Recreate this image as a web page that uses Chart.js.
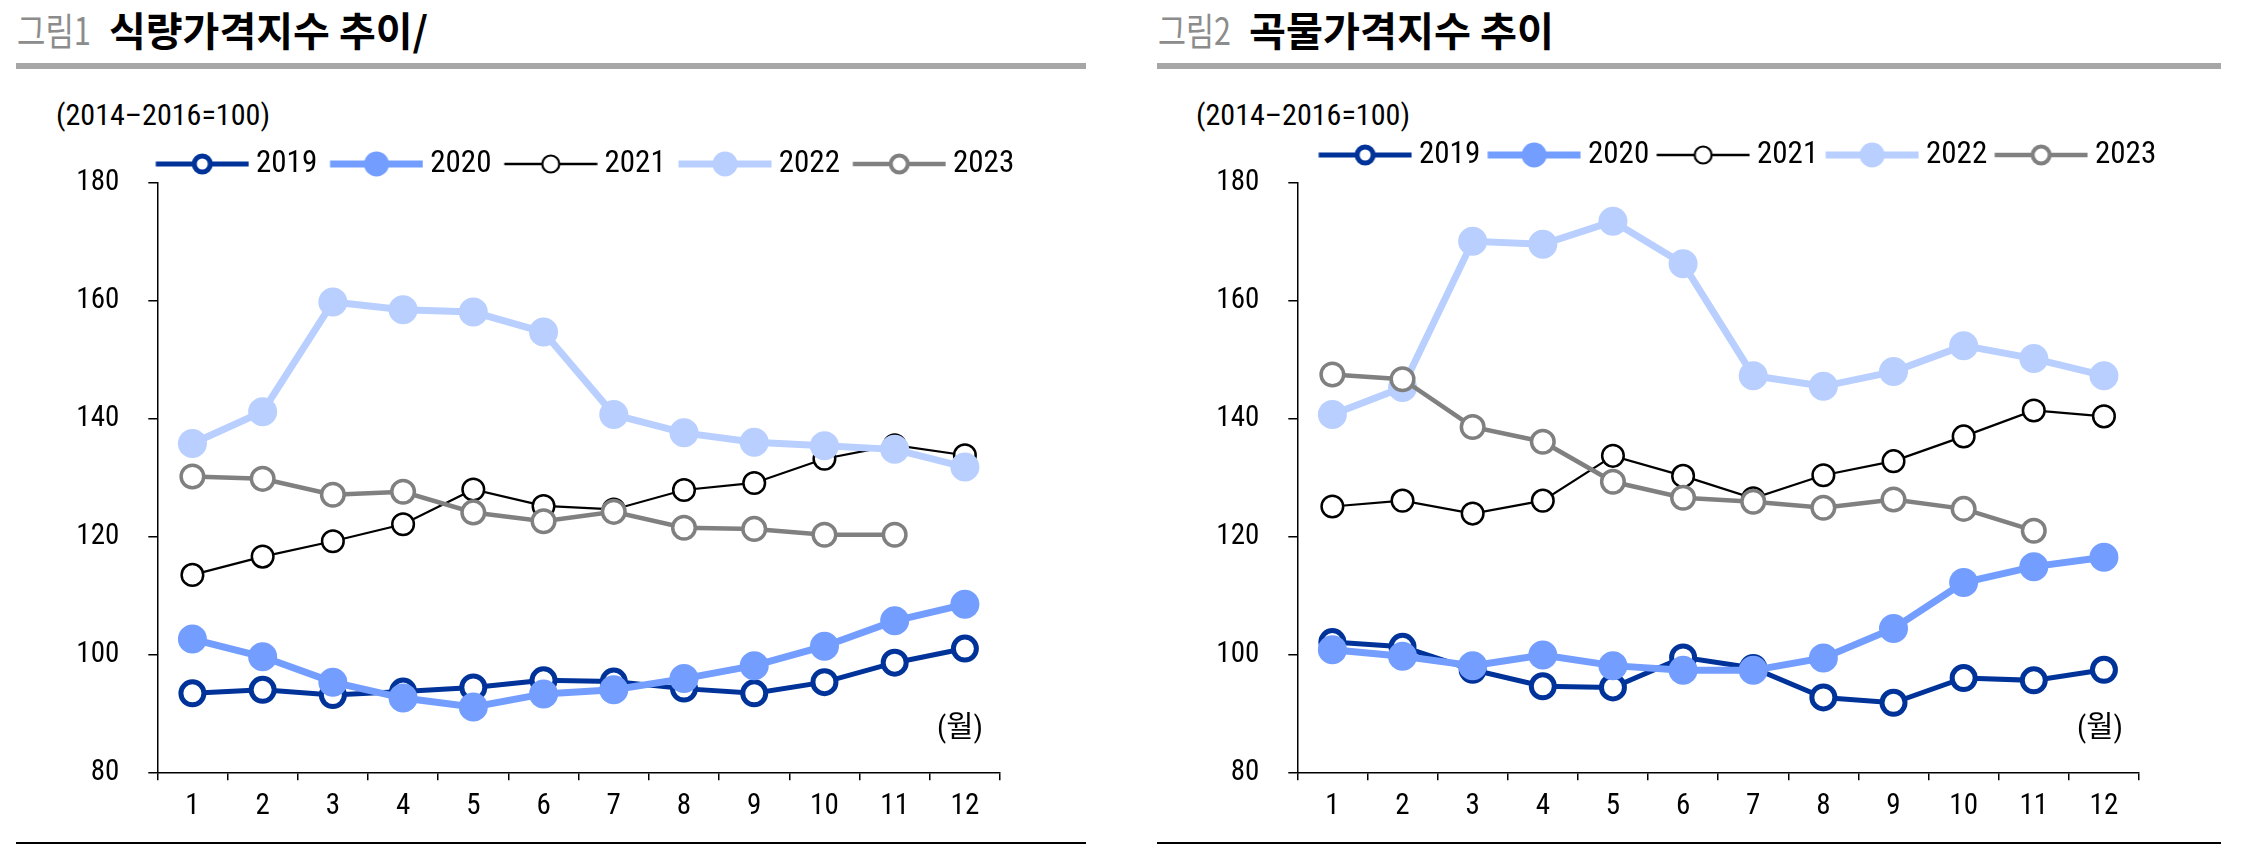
<!DOCTYPE html>
<html><head><meta charset="utf-8">
<script src="https://cdn.jsdelivr.net/npm/chart.js@4/dist/chart.umd.min.js"></script>
<style>
html,body{margin:0;padding:0;background:#fff;width:2245px;height:852px;overflow:hidden;position:relative;}
.abs{position:absolute;white-space:nowrap;transform-origin:0 0;}
.fig{font-family:'Noto Sans CJK KR',sans-serif;color:#8c8c8c;font-size:38px;line-height:40px;}
.ttl{font-family:'Noto Sans CJK KR',sans-serif;font-weight:bold;color:#000;font-size:40px;line-height:40px;}
.rule{position:absolute;background:#a6a6a6;height:6px;}
.brule{position:absolute;background:#000;height:2px;}
.sub,.unit{font-size:29px;line-height:30px;color:#000;}
.box{position:absolute;}
</style></head>
<body>
<div class="abs fig" id="fig1" style="left:17px;top:9px;">그림1</div>
<div class="abs ttl" id="ttl1" style="left:109px;top:9px;">식량가격지수 추이/</div>
<div class="abs fig" id="fig2" style="left:1158px;top:9px;">그림2</div>
<div class="abs ttl" id="ttl2" style="left:1249px;top:9px;">곡물가격지수 추이</div>
<div class="rule" style="left:16px;top:63px;width:1070px;"></div>
<div class="rule" style="left:1157px;top:63px;width:1064px;"></div>
<div class="abs sub" id="sub1" style="left:56px;top:100px;"></div>
<div class="abs sub" id="sub2" style="left:1196px;top:100px;"></div>
<div class="box" style="left:0px;top:100px;"><canvas id="c1" width="1100" height="740"></canvas></div>
<div class="box" style="left:1140px;top:100px;"><canvas id="c2" width="1105" height="740"></canvas></div>
<div class="abs unit" id="unit1" style="left:937px;top:712px;"></div>
<div class="abs unit" id="unit2" style="left:2077px;top:712px;"></div>
<div class="brule" style="left:16px;top:842px;width:1070px;"></div>
<div class="brule" style="left:1157px;top:842px;width:1064px;"></div>
<script>
// ---------- data ----------
const months = ['1','2','3','4','5','6','7','8','9','10','11','12'];
const seriesNames = ['2019','2020','2021','2022','2023'];
const yTickValues = [80, 100, 120, 140, 160, 180];
const unitText = '(2014–2016=100)';
const monthUnitText = '(월)';

const food2019 = [93.4, 94.0, 93.1, 93.7, 94.4, 95.6, 95.4, 94.2, 93.4, 95.3, 98.6, 101.0];
const food2020 = [102.6, 99.6, 95.3, 92.6, 91.1, 93.3, 94.0, 95.9, 98.1, 101.4, 105.7, 108.5];
const food2021 = [113.5, 116.6, 119.2, 122.1, 128.0, 125.2, 124.6, 127.9, 129.1, 133.2, 135.5, 133.8];
const food2022 = [135.8, 141.2, 159.8, 158.5, 158.1, 154.7, 140.7, 137.6, 136.0, 135.4, 134.8, 131.8];
const food2023 = [130.2, 129.8, 127.1, 127.6, 124.1, 122.6, 124.2, 121.5, 121.3, 120.3, 120.3];

const grain2019 = [102.1, 101.3, 97.4, 94.6, 94.4, 99.5, 97.7, 92.7, 91.8, 96.0, 95.6, 97.4];
const grain2020 = [100.8, 99.7, 98.1, 99.9, 98.1, 97.3, 97.3, 99.4, 104.4, 112.2, 114.9, 116.5];
const grain2021 = [125.1, 126.1, 123.9, 126.1, 133.7, 130.3, 126.5, 130.4, 132.8, 137.0, 141.4, 140.4];
const grain2022 = [140.7, 145.3, 170.1, 169.6, 173.5, 166.3, 147.3, 145.5, 148.0, 152.4, 150.2, 147.3];
const grain2023 = [147.5, 146.7, 138.6, 136.1, 129.3, 126.6, 125.9, 124.9, 126.3, 124.7, 121.0];

// ---------- styles ----------
const styles = [
  {color:'#003399', lw:5,   r:11.5, bw:5,   fill:'#ffffff', lgR:8,    lgBw:5,   lgLw:5},
  {color:'#739eff', lw:7,   r:14.5, bw:0,   fill:'#739eff', lgR:12.5, lgBw:0,   lgLw:7},
  {color:'#000000', lw:2.2, r:10.8, bw:2.5, fill:'#ffffff', lgR:8.5,  lgBw:2.2, lgLw:2.5},
  {color:'#b8cfff', lw:7,   r:14.5, bw:0,   fill:'#b8cfff', lgR:12.5, lgBw:0,   lgLw:7},
  {color:'#808080', lw:4.5, r:11.3, bw:3.5, fill:'#ffffff', lgR:8.5,  lgBw:4,   lgLw:4.5}
];

// ---------- fonts ----------
function fontAvailable(name){
  const c = document.createElement('canvas').getContext('2d');
  const t = '2019 abcABC';
  let diff = false;
  for (const fb of ['monospace','serif']) {
    c.font = '40px ' + fb; const a = c.measureText(t).width;
    c.font = '40px "' + name + '", ' + fb; const b = c.measureText(t).width;
    if (Math.abs(a-b) > 0.01) diff = true;
  }
  return diff;
}
const cands = ['Liberation Sans Narrow','Arial Narrow','Roboto Condensed','DejaVu Sans Condensed','Liberation Sans'];
const NARROW = cands.find(n => fontAvailable(n)) || 'Liberation Sans';
const FAM = '"' + NARROW + '", "Liberation Sans", "Noto Sans CJK KR", sans-serif';

function measure(txt, size){
  const c = document.createElement('canvas').getContext('2d');
  c.font = size + 'px ' + FAM; return c.measureText(txt).width;
}
const legendFont = 31;
const tickFont = 29;
Chart.defaults.font.family = FAM;
Chart.defaults.color = '#000';

// ---------- text boxes ----------
function fit(id, text, width){
  const el = document.getElementById(id);
  if (text != null) el.textContent = text;
  el.style.fontFamily = FAM;
  const w = el.getBoundingClientRect().width;
  el.style.transform = 'scaleX(' + (width / w) + ')';
}
function fitKeep(id, width){
  const el = document.getElementById(id);
  const w = el.getBoundingClientRect().width;
  el.style.transform = 'scaleX(' + (width / w) + ')';
}
fit('sub1', unitText, 214); fit('sub2', unitText, 214);
fit('unit1', monthUnitText, 46); fit('unit2', monthUnitText, 46);
fitKeep('fig1', 74); fitKeep('ttl1', 319); fitKeep('fig2', 73); fitKeep('ttl2', 305);

// ---------- legend icons ----------
function makeIcon(st, s){
  const W = 93 + 2*Math.abs(s), H = 34;
  const cv = document.createElement('canvas'); cv.width = Math.ceil(W); cv.height = H;
  const g = cv.getContext('2d');
  const off = s > 0 ? 2*s : 0;
  const cy = H/2;
  g.strokeStyle = st.color; g.lineWidth = st.lgLw; g.lineCap = 'butt';
  g.beginPath(); g.moveTo(off, cy); g.lineTo(off+93, cy); g.stroke();
  g.beginPath(); g.arc(off+46.5, cy, st.lgR, 0, Math.PI*2);
  g.fillStyle = st.fill; g.fill();
  if (st.lgBw > 0) { g.lineWidth = st.lgBw; g.strokeStyle = st.color; g.stroke(); }
  return cv;
}

function buildChart(canvasId, seriesArrays, geo){
  const f = legendFont;
  const tw = measure('2019', f);
  const p = 12;
  const B = geo.stride - f/2 - tw - p;
  const s = B/2 - 53.5 + f/2;
  const W = geo.canvasW;
  const legendRight = geo.iconLast + 100 + tw + p;
  const padR = W - legendRight;
  const dummyW = legendRight - geo.chartRight;
  const padTop = geo.legendCenter - p - f/2;
  const legendH = geo.chartTop - padTop;
  const xAxisH = geo.canvasH - geo.chartBottom;
  const icons = styles.map(st => makeIcon(st, s));

  const datasets = seriesArrays.map((arr, i) => ({
    label: seriesNames[i],
    data: arr,
    borderColor: styles[i].color,
    backgroundColor: styles[i].fill,
    borderWidth: styles[i].lw,
    pointRadius: styles[i].r,
    pointBorderWidth: styles[i].bw,
    pointBackgroundColor: styles[i].fill,
    pointBorderColor: styles[i].color,
    pointHoverRadius: styles[i].r,
    tension: 0,
    fill: false,
    clip: false,
    order: 5 - i
  }));

  const legendPatch = {
    id: 'legendPatch',
    beforeLayout(chart){
      const lg = chart.legend;
      if (lg && !lg._patched) {
        const orig = lg.fit;
        lg.fit = function(){ orig.call(this); this.height = legendH; };
        lg._patched = true;
      }
    }
  };

  return new Chart(document.getElementById(canvasId), {
    type: 'line',
    data: { labels: months, datasets },
    plugins: [legendPatch],
    options: {
      responsive: false,
      animation: false,
      events: [],
      layout: { padding: { top: padTop, left: 0, right: padR, bottom: 0 } },
      plugins: {
        tooltip: { enabled: false },
        title: { display: false },
        legend: {
          display: true,
          position: 'top',
          align: 'end',
          labels: {
            usePointStyle: true,
            pointStyleWidth: B,
            padding: p,
            color: '#000',
            font: { size: f, family: FAM },
            generateLabels: () => seriesNames.map((n, i) => ({
              text: n, pointStyle: icons[i], datasetIndex: i, hidden: false,
              lineWidth: 0, fillStyle: styles[i].fill, strokeStyle: styles[i].color, fontColor: '#000'
            }))
          }
        }
      },
      scales: {
        x: {
          type: 'category',
          offset: true,
          grid: { offset: true, drawOnChartArea: false, drawTicks: true, tickLength: 8, color: '#000', lineWidth: 1.5 },
          border: { display: true, color: '#000', width: 1.5 },
          ticks: { padding: 9, color: '#000', font: { size: tickFont, family: FAM }, maxRotation: 0, autoSkip: false },
          afterFit: sc => { sc.height = xAxisH; }
        },
        y: {
          type: 'linear',
          position: 'left',
          min: yTickValues[0],
          max: yTickValues[yTickValues.length-1],
          afterBuildTicks: sc => { sc.ticks = yTickValues.map(v => ({ value: v })); },
          grid: { drawOnChartArea: false, drawTicks: true, tickLength: 9, color: '#000', lineWidth: 1.5 },
          border: { display: true, color: '#000', width: 1.5 },
          ticks: { padding: 29, color: '#000', font: { size: tickFont, family: FAM } },
          afterFit: sc => { sc.width = geo.chartLeft; }
        },
        y2: {
          type: 'linear',
          position: 'right',
          display: true,
          grid: { display: false, drawTicks: false },
          border: { display: false },
          ticks: { display: false },
          afterFit: sc => { sc.width = dummyW; }
        }
      }
    }
  });
}

buildChart('c1', [food2019, food2020, food2021, food2022, food2023], {
  canvasW: 1100, canvasH: 740, chartLeft: 157.3, chartRight: 1000, chartTop: 83, chartBottom: 672.3,
  legendCenter: 64, iconLast: 853, stride: 174.25
});
buildChart('c2', [grain2019, grain2020, grain2021, grain2022, grain2023], {
  canvasW: 1105, canvasH: 740, chartLeft: 157.3, chartRight: 999, chartTop: 83, chartBottom: 672.3,
  legendCenter: 55, iconLast: 855, stride: 169
});
</script>
</body></html>
